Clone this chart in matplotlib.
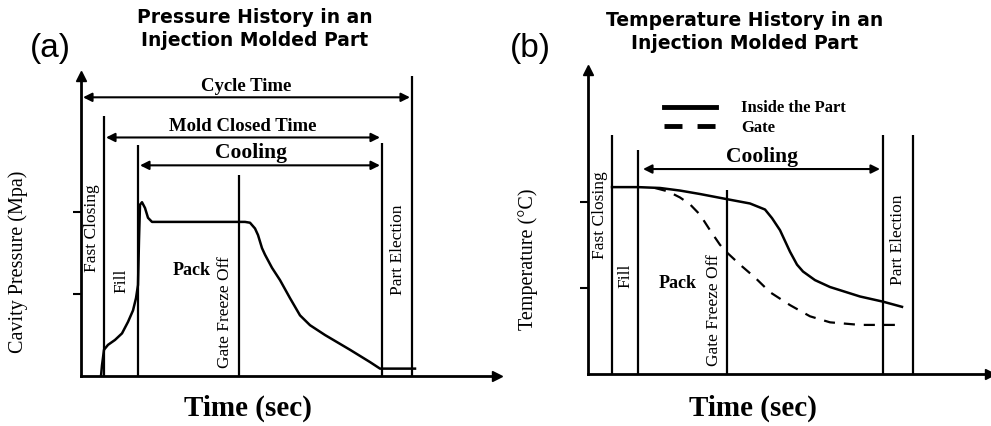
import matplotlib.pyplot as plt
from matplotlib.lines import Line2D

# (a) cavity pressure trace, time and pressure in arbitrary units
press_t = [2.0, 2.1, 2.3, 2.7, 3.4, 4.1, 4.7, 5.2, 5.5, 5.7, 5.8, 5.9, 6.1, 6.4, 6.7, 7.1,
           16.4, 16.9, 17.4, 17.7, 18.1, 18.4, 19.1, 19.9, 20.9, 21.9, 22.9, 24.4, 26.9, 28.9, 29.9, 33.4]
press_p = [0, 1.3, 3.2, 3.8, 4.4, 5.2, 6.6, 8.0, 9.5, 11.1, 16.6, 20.9, 21.2, 20.5, 19.3, 18.8,
           18.8, 18.7, 18.0, 17.2, 15.6, 14.8, 13.2, 11.7, 9.5, 7.4, 6.2, 5.0, 3.2, 1.7, 0.9, 0.9]

# (b) temperature traces
part_t = [2.4, 5.0, 7.2, 9.2, 11.2, 13.9, 16.2, 17.7, 18.4, 19.2, 20.2, 20.9, 21.5, 22.7, 24.2, 27.2, 29.5, 31.4]
part_T = [21.7, 21.7, 21.6, 21.3, 20.9, 20.3, 19.8, 19.1, 18.1, 16.7, 14.2, 12.7, 11.9, 10.9, 10.1, 9.0, 8.4, 7.8]
gate_t = [6.7, 8.0, 9.2, 10.2, 11.2, 12.2, 13.2, 13.9, 15.2, 16.7, 18.2, 20.2, 22.2, 24.2, 27.2, 31.4]
gate_T = [21.6, 21.2, 20.5, 19.7, 18.5, 16.7, 15.0, 14.1, 12.7, 11.2, 9.5, 8.0, 6.7, 6.0, 5.7, 5.7]

# phase boundaries (time) and how tall each line is drawn
a_lines_t = [2.3, 5.7, 15.8, 30.1, 33.1]
a_lines_top = [31.7, 28.2, 24.5, 28.4, 36.6]
b_lines_t = [2.4, 5.0, 13.9, 29.5, 32.5]
b_lines_top = [27.8, 26.0, 21.4, 27.8, 27.8]

# time spans with double arrows
a_spans = ['Cycle Time', 'Mold Closed Time', 'Cooling']
a_span_start = [0.2, 2.5, 5.9]
a_span_end = [32.9, 29.9, 29.9]
a_span_y = [34.0, 29.1, 25.7]
b_spans = ['Cooling']
b_span_start = [5.5]
b_span_end = [29.2]
b_span_y = [23.8]

phases = ['Fast Closing', 'Fill', 'Pack', 'Gate Freeze Off', 'Part Election']
a_phase_x = [1.1, 4.0, 11.1, 14.4, 31.7]
a_phase_y = [18.1, 11.6, 12.9, 7.8, 15.4]
b_phase_x = [1.2, 3.7, 9.0, 12.6, 31.0]
b_phase_y = [18.4, 11.4, 10.5, 7.4, 15.6]
phase_rot = [90, 90, 0, 90, 90]

serif = 'Liberation Serif'
W, H = 991, 426

fig = plt.figure(figsize=(W / 100, H / 100), dpi=100)


def panel(rect, xmax, ymax):
    ax = fig.add_axes([rect[0] / W, 1 - rect[3] / H, (rect[2] - rect[0]) / W, (rect[3] - rect[1]) / H])
    ax.set_xlim(0, xmax)
    ax.set_ylim(0, ymax)
    for s in ['top', 'right']:
        ax.spines[s].set_visible(False)
    for s in ['left', 'bottom']:
        ax.spines[s].set_linewidth(2)
    ax.set_xticks([])
    ax.set_yticks([10, 20])
    ax.set_yticklabels([])
    ax.tick_params(axis='y', length=6, width=1.5, direction='out')
    ax.plot(1, 0, '>k', ms=7, transform=ax.transAxes, clip_on=False)
    ax.plot(0, 1, '^k', ms=7, transform=ax.transAxes, clip_on=False)
    return ax


def decorate(ax, lines_t, lines_top, spans, s0, s1, sy, px, py, cool_x):
    ax.vlines(lines_t, 0, lines_top, color='k', lw=1.6)
    for name, a, b, y in zip(spans, s0, s1, sy):
        ax.annotate('', xy=(b, y), xytext=(a, y),
                    arrowprops=dict(arrowstyle='<|-|>', color='k', lw=1.5,
                                    mutation_scale=13, shrinkA=0, shrinkB=0))
        big = name == 'Cooling'
        ax.annotate(name, xy=(cool_x if big else (a + b) / 2, y),
                    xytext=(0, 1.5), textcoords='offset points', ha='center', va='bottom',
                    family=serif, fontsize=15.5 if big else 13.5, fontweight='bold')
    for name, x, y, r in zip(phases, px, py, phase_rot):
        ax.text(x, y, name, rotation=r, ha='center', va='center', family=serif,
                fontsize=13 if name == 'Pack' else 12.5,
                fontweight='bold' if name == 'Pack' else 'normal')


# panel (a)
ax1 = panel((81, 76, 497, 376), 41.6, 36.6)
ax1.plot(press_t, press_p, color='k', lw=1.8)
decorate(ax1, a_lines_t, a_lines_top, a_spans, a_span_start, a_span_end, a_span_y,
         a_phase_x, a_phase_y, 17.0)

# panel (b)
ax2 = panel((588, 70, 990, 374), 40.2, 35.3)
ax2.plot(part_t, part_T, color='k', lw=1.8)
ax2.plot(gate_t, gate_T, color='k', lw=1.6, dashes=(5, 4))
decorate(ax2, b_lines_t, b_lines_top, b_spans, b_span_start, b_span_end, b_span_y,
         b_phase_x, b_phase_y, 17.4)
handles = [Line2D([], [], color='k', lw=3.5), Line2D([], [], color='k', lw=3.5, dashes=(3.7, 3.1))]
ax2.legend(handles, ['Inside the Part', 'Gate'], loc='upper left', bbox_to_anchor=(0.19, 0.90),
           frameon=False, borderpad=0, borderaxespad=0, handlelength=3.1, handletextpad=1.5,
           labelspacing=0.2, prop=dict(family=serif, weight='bold', size=12))


def ftext(x, y, s, **kw):
    fig.text(x / W, 1 - y / H, s, ha='center', va='center', **kw)


ftext(255, 29, 'Pressure History in an\nInjection Molded Part', family='DejaVu Sans',
      fontweight='bold', fontsize=13.5, linespacing=1.25)
ftext(745, 32, 'Temperature History in an\nInjection Molded Part', family='DejaVu Sans',
      fontweight='bold', fontsize=13.5, linespacing=1.25)
ftext(50, 48, '(a)', family='Liberation Sans', fontsize=24)
ftext(530, 48, '(b)', family='Liberation Sans', fontsize=24)
ftext(18, 262, 'Cavity Pressure (Mpa)', family=serif, fontsize=14.5, rotation=90)
ftext(528, 259, 'Temperature (°C)', family=serif, fontsize=14.5, rotation=90)
ftext(248, 408, 'Time (sec)', family=serif, fontweight='bold', fontsize=21)
ftext(753, 408, 'Time (sec)', family=serif, fontweight='bold', fontsize=21)

fig.savefig('out.png', dpi=100)
